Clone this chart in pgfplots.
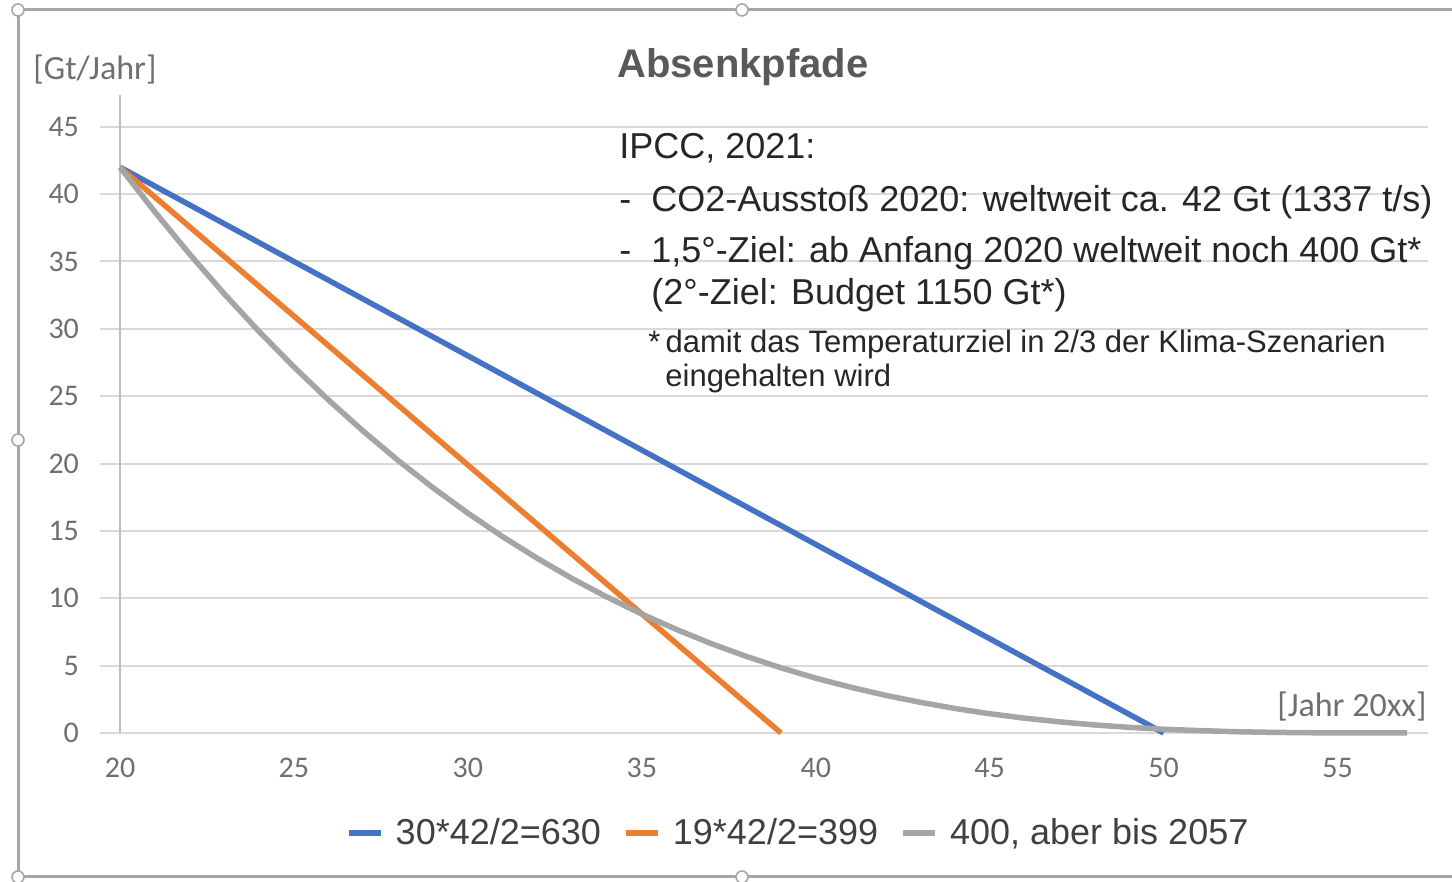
\documentclass[border=0pt]{standalone}
\usepackage{pgfplots}
\pgfplotsset{compat=1.18}
\usepackage{fontspec}
\setmainfont{Liberation Sans}
\newfontfamily\calibri{Carlito}
\definecolor{cblue}{HTML}{4472C4}
\definecolor{corange}{HTML}{ED7D31}
\definecolor{cgray}{HTML}{A5A5A5}
\definecolor{gridc}{HTML}{D9D9D9}
\definecolor{axisc}{HTML}{BFBFBF}
\definecolor{tickc}{HTML}{6F6F6F}
\definecolor{framec}{HTML}{A6A6A6}
\definecolor{titlec}{HTML}{595959}
\definecolor{textc}{HTML}{262626}
\definecolor{legc}{HTML}{404040}
\begin{document}
\begin{tikzpicture}[x=0.5pt,y=0.5pt]
\path[use as bounding box] (0,0) rectangle (1452,882);
\draw[framec, line width=1.5pt] (1452,872) -- (18,872) -- (18,5) -- (1452,5);
\foreach \p in {(18,872),(742,872),(18,442),(18,5),(742,5)}
  \draw[framec, fill=white, line width=0.8pt] \p circle (3pt);
\begin{axis}[
  at={(50pt,74.5pt)}, anchor=south west,
  scale only axis, width=664pt, height=319pt,
  xmin=19.425, xmax=57.6, ymin=0, ymax=47.36,
  axis line style={draw=none},
  xtick={20,25,...,55}, ytick={0,5,...,45},
  major tick length=0pt,
  ymajorgrids, grid style={gridc, line width=1pt},
  /pgf/number format/assume math mode=true,
  tick label style={font=\calibri\fontsize{15}{15}\selectfont, text=tickc},
  xticklabel style={anchor=north, yshift=-9pt},
  yticklabel style={anchor=east, xshift=-7pt},
  clip=false,
  legend style={at={(0.5264,-0.1567)}, anchor=center, draw=none, fill=none,
    legend columns=3, font=\fontsize{18}{20}\selectfont, text=legc,
    /tikz/every odd column/.append style={column sep=4pt},
    /tikz/every even column/.append style={column sep=9pt}},
  legend image code/.code={\draw[#1, line width=3pt] (0pt,0pt) -- (16pt,0pt);},
]
\draw[axisc, line width=0.8pt] (axis cs:20,0) -- (axis cs:20,47.36);
\addplot[cblue, line width=2.75pt] coordinates {(20,42) (50,0)};
\addlegendentry{30*42/2=630}
\addplot[corange, line width=2.75pt] coordinates {(20,42) (39,0)};
\addlegendentry{19*42/2=399}
\addplot[cgray, line width=2.75pt] coordinates {
(20,42) (21,38.69) (22,35.55) (23,32.59) (24,29.80) (25,27.17) (26,24.70)
(27,22.39) (28,20.22) (29,18.20) (30,16.32) (31,14.57) (32,12.96) (33,11.46)
(34,10.09) (35,8.83) (36,7.68) (37,6.63) (38,5.69) (39,4.84) (40,4.07)
(41,3.40) (42,2.80) (43,2.28) (44,1.82) (45,1.43) (46,1.10) (47,0.83)
(48,0.60) (49,0.42) (50,0.28) (51,0.18) (52,0.10) (53,0.053) (54,0.022)
(55,0.007) (56,0.001) (57,0)};
\addlegendentry{400, aber bis 2057}
\end{axis}
\node[anchor=base west, inner sep=0, font=\calibri\fontsize{17}{17}\selectfont, text=tickc] at (33,802) {[Gt/Jahr]};
\node[anchor=base east, inner sep=0, font=\calibri\fontsize{17}{17}\selectfont, text=tickc] at (1427,165) {[Jahr 20xx]};
\node[anchor=base west, inner sep=0, font=\bfseries\fontsize{20}{24}\selectfont, text=titlec] at (617,804) {Absenkpfade};
\begin{scope}[every node/.style={anchor=base west, inner sep=0, font=\fontsize{18}{22}\selectfont, text=textc}]
\node at (619,723) {IPCC, 2021:};
\node at (619,670) {-};
\node at (651,670) {CO2-Ausstoß 2020: weltweit ca. 42 Gt (1337 t/s)};
\node at (619,619) {-};
\node at (651,619) {1,5°-Ziel: ab Anfang 2020 weltweit noch 400 Gt*};
\node at (651,577) {(2°-Ziel: Budget 1150 Gt*)};
\end{scope}
\begin{scope}[every node/.style={anchor=base west, inner sep=0, font=\fontsize{15.5}{18}\selectfont, text=textc}]
\node at (648,529) {*\,damit das Temperaturziel in 2/3 der Klima-Szenarien};
\node at (665,495) {eingehalten wird};
\end{scope}
\end{tikzpicture}
\end{document}
